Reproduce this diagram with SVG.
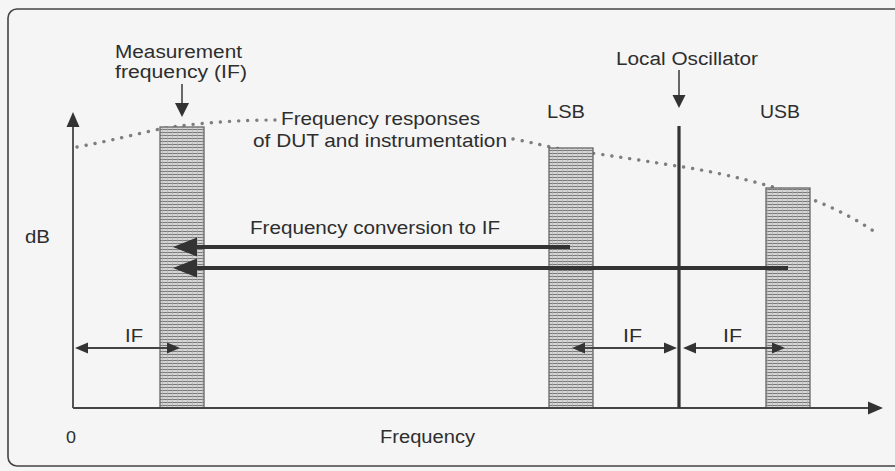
<svg xmlns="http://www.w3.org/2000/svg" width="895" height="471" viewBox="0 0 895 471">
  <defs>
    <style>
      .t { font-family: "Liberation Sans", Arial, sans-serif; font-size: 18px; fill: #2e2e2e; }
      .frame { fill: none; stroke: #444; stroke-width: 1.6; }
      .axis { fill: none; stroke: #444; stroke-width: 1.8; }
      .bar { fill: url(#hatch); stroke: #666; stroke-width: 1.3; }
      .dots { fill: none; stroke: #7e7e7e; stroke-width: 3.4; stroke-linecap: round; stroke-dasharray: 0.1 9; }
      .conv { fill: none; stroke: #333; stroke-width: 4; }
      .dim { fill: none; stroke: #444; stroke-width: 2; }
      .thin { fill: none; stroke: #444; stroke-width: 1.6; }
      .head { fill: #333; }
    </style>
    <pattern id="hatch" width="5" height="3" patternUnits="userSpaceOnUse">
      <rect width="5" height="3" fill="#d6d6d6"/>
      <line x1="0" y1="0.5" x2="5" y2="0.5" stroke="#7a7a7a" stroke-width="1"/>
      <line x1="2.5" y1="0" x2="2.5" y2="3" stroke="#b0b0b0" stroke-width="0.6"/>
    </pattern>
  </defs>

  <rect x="0" y="0" width="895" height="471" fill="#f5f5f5"/>
  <rect class="frame" x="8" y="9" width="900" height="457" rx="9"/>

  <g id="response-curve">
    <path class="dots" d="M77,147 C110,141 140,133 165,128 C205,122 245,120 277,120"/>
    <path class="dots" d="M513,139 C530,142 545,146 560,149 C610,155 650,162 690,168 C730,175 760,183 790,192 C820,201 850,215 875,232"/>
  </g>

  <g id="bar-if"><rect class="bar" x="160" y="127" width="44" height="281"/></g>
  <g id="bar-lsb"><rect class="bar" x="549" y="148" width="44" height="260"/></g>
  <g id="bar-usb"><rect class="bar" x="766" y="188" width="44" height="220"/></g>

  <g id="axes">
    <line class="axis" x1="73" y1="408" x2="870" y2="408"/>
    <polygon class="head" points="883,408 868,401.5 868,414.5"/>
    <line class="axis" x1="73" y1="408" x2="73" y2="125"/>
    <polygon class="head" points="73,112 66.5,127 79.5,127"/>
  </g>

  <g id="local-oscillator-line">
    <line x1="679" y1="126" x2="679" y2="408" stroke="#333" stroke-width="3.2"/>
  </g>

  <g id="connectors">
    <line class="thin" x1="182" y1="84" x2="182" y2="105"/>
    <polygon class="head" points="182,117 175,103 189,103"/>
    <line class="thin" x1="679" y1="70" x2="679" y2="96"/>
    <polygon class="head" points="679,108 672.5,95 685.5,95"/>

    <line class="conv" x1="570" y1="247" x2="192" y2="247"/>
    <polygon class="head" points="173,247 197,237.5 197,256.5"/>
    <line class="conv" x1="788" y1="268" x2="192" y2="268"/>
    <polygon class="head" points="173,268 197,258.5 197,277.5"/>

    <line class="dim" x1="86" y1="348" x2="168" y2="348"/>
    <polygon class="head" points="75,348 88,342.5 88,353.5"/>
    <polygon class="head" points="180,348 167,342.5 167,353.5"/>

    <line class="dim" x1="584" y1="348" x2="665" y2="348"/>
    <polygon class="head" points="572,348 585,342.5 585,353.5"/>
    <polygon class="head" points="677,348 664,342.5 664,353.5"/>

    <line class="dim" x1="695" y1="348" x2="773" y2="348"/>
    <polygon class="head" points="683,348 696,342.5 696,353.5"/>
    <polygon class="head" points="785,348 772,342.5 772,353.5"/>
  </g>

  <g id="label-measurement">
    <text class="t" x="115" y="58" textLength="127" lengthAdjust="spacingAndGlyphs">Measurement</text>
    <text class="t" x="115" y="78" textLength="132" lengthAdjust="spacingAndGlyphs">frequency (IF)</text>
  </g>
  <g id="label-responses">
    <text class="t" x="281" y="125" style="font-size:19px" textLength="199" lengthAdjust="spacingAndGlyphs">Frequency responses</text>
    <text class="t" x="253" y="147" style="font-size:19px" textLength="254" lengthAdjust="spacingAndGlyphs">of DUT and instrumentation</text>
  </g>
  <g id="label-lsb"><text class="t" x="547" y="118" textLength="38" lengthAdjust="spacingAndGlyphs">LSB</text></g>
  <g id="label-lo"><text class="t" x="616" y="65" textLength="142" lengthAdjust="spacingAndGlyphs">Local Oscillator</text></g>
  <g id="label-usb"><text class="t" x="760" y="118" textLength="40" lengthAdjust="spacingAndGlyphs">USB</text></g>
  <g id="label-db"><text class="t" x="25" y="243" textLength="25" lengthAdjust="spacingAndGlyphs">dB</text></g>
  <g id="label-conversion"><text class="t" x="250" y="234" textLength="250" lengthAdjust="spacingAndGlyphs">Frequency conversion to IF</text></g>
  <g id="label-if-1"><text class="t" x="125" y="342" textLength="18" lengthAdjust="spacingAndGlyphs">IF</text></g>
  <g id="label-if-2"><text class="t" x="623" y="342" textLength="19" lengthAdjust="spacingAndGlyphs">IF</text></g>
  <g id="label-if-3"><text class="t" x="723" y="342" textLength="19" lengthAdjust="spacingAndGlyphs">IF</text></g>
  <g id="label-zero"><text class="t" x="66" y="443" style="font-size:17px" textLength="10" lengthAdjust="spacingAndGlyphs">0</text></g>
  <g id="label-frequency"><text class="t" x="380" y="443" textLength="95" lengthAdjust="spacingAndGlyphs">Frequency</text></g>
</svg>
